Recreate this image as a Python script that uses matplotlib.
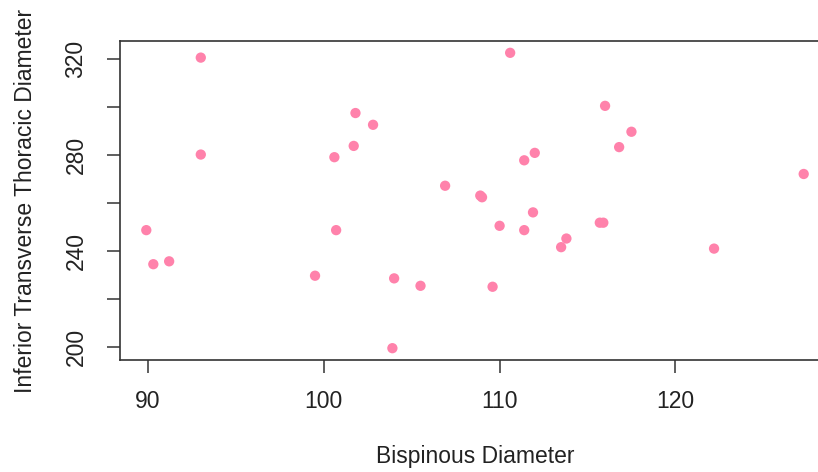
import matplotlib
matplotlib.use('Agg')
import matplotlib.pyplot as plt

# Diametros
bispinoso = [93.0, 93.0, 89.9, 90.3, 91.2, 101.8, 102.8, 101.7, 100.6, 106.9,
             100.7, 99.5, 104.0, 105.5, 103.9, 110.6, 116.0, 117.5, 116.8, 112.0,
             111.4, 108.9, 109.0, 127.3, 111.9, 110.0, 111.4, 115.7, 115.9, 113.8,
             113.5, 122.2, 109.6]
toracico = [320.4, 280.0, 248.5, 234.3, 235.5, 297.3, 292.4, 283.6, 278.9, 267.0,
            248.5, 229.5, 228.4, 225.3, 199.3, 322.4, 300.3, 289.5, 283.1, 280.7,
            277.6, 262.9, 262.2, 271.9, 255.9, 250.3, 248.5, 251.6, 251.6, 245.0,
            241.4, 240.8, 224.9]

x_ticks = [90, 100, 110, 120]
y_ticks = [200, 220, 240, 260, 280, 300, 320]
y_etiquetas = ['200', '', '240', '', '280', '', '320']

plt.rcParams['font.family'] = ['Liberation Sans', 'DejaVu Sans']

fig = plt.figure(figsize=(8.18, 4.72), dpi=100)
ax = fig.add_axes([120 / 818, 112 / 472, 710 / 818, 319 / 472])

ax.scatter(bispinoso, toracico, s=55, color='#FF82AB', edgecolors='none', zorder=3)

# Rango estilo R (4% extra)
dx = (max(bispinoso) - min(bispinoso)) * 0.04
dy = (max(toracico) - min(toracico)) * 0.04
ax.set_xlim(min(bispinoso) - dx, max(bispinoso) + dx)
ax.set_ylim(min(toracico) - dy, max(toracico) + dy)

ax.set_xticks(x_ticks)
ax.set_xticklabels([str(v) for v in x_ticks])
ax.set_yticks(y_ticks)
ax.set_yticklabels(y_etiquetas, rotation=90, va='center')

for lado in ax.spines.values():
    lado.set_linewidth(1.2)
    lado.set_color('#333333')

ax.tick_params(axis='both', length=9.4, width=1.1, color='#333333',
               labelsize=16.5, labelcolor='#222222')
ax.tick_params(axis='x', pad=12)
ax.tick_params(axis='y', pad=14)

ax.set_xlabel('Bispinous Diameter', fontsize=16.5, color='#222222', labelpad=23.5)
ax.set_ylabel('Inferior Transverse Thoracic Diameter', fontsize=16.5,
              color='#222222', labelpad=20)

fig.savefig('out.png', dpi=100)
